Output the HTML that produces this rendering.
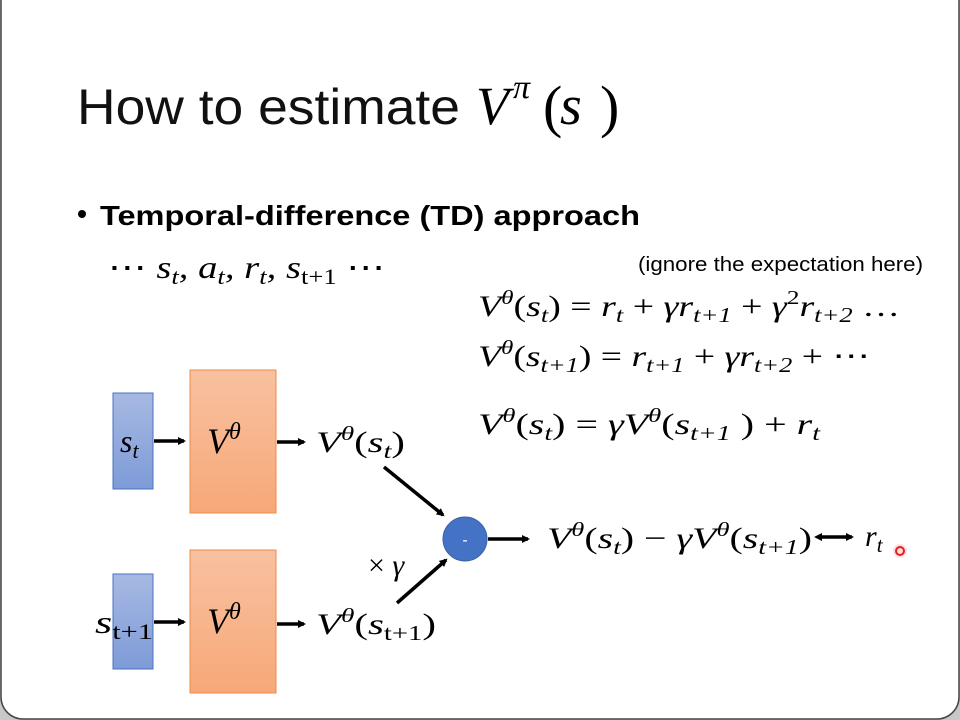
<!DOCTYPE html>
<html><head><meta charset="utf-8"><style>
html,body{margin:0;padding:0;background:#c8c8c8;}
svg{display:block;}
.m{font-family:"Liberation Serif",serif;font-style:italic;}
.u{font-family:"Liberation Serif",serif;font-style:normal;}
</style></head><body>
<svg width="960" height="720" viewBox="0 0 960 720" xmlns="http://www.w3.org/2000/svg">
<defs>
<linearGradient id="og" x1="0" y1="0" x2="0" y2="1"><stop offset="0" stop-color="#f8c1a0"/><stop offset="1" stop-color="#f7a878"/></linearGradient>
<linearGradient id="bg" x1="0" y1="0" x2="0" y2="1"><stop offset="0" stop-color="#a7b9e2"/><stop offset="1" stop-color="#7e9bd8"/></linearGradient>
<marker id="ah" markerWidth="8" markerHeight="8" refX="6" refY="4" orient="auto" markerUnits="userSpaceOnUse"><path d="M0,0 L8,4 L0,8 z" fill="#000"/></marker>
<marker id="ahs" markerWidth="8" markerHeight="8" refX="2" refY="4" orient="auto-start-reverse" markerUnits="userSpaceOnUse"><path d="M0,0 L8,4 L0,8 z" fill="#000"/></marker>
</defs>
<rect x="0" y="0" width="960" height="720" fill="#c8c8c8"/>
<rect x="1" y="-20" width="958" height="739" rx="22" fill="#fff" stroke="#444" stroke-width="1.5"/>

<!-- title -->
<text x="77" y="124" font-family="Liberation Sans,sans-serif" font-size="50" textLength="383" lengthAdjust="spacingAndGlyphs" fill="#111">How to estimate</text>
<text x="476" y="124" class="m" font-size="54">V</text>
<text x="513" y="98" class="m" font-size="34">π</text>
<text x="543" y="126" class="u" font-size="58">(</text>
<text x="560" y="124" class="m" font-size="56">s</text>
<text x="600" y="126" class="u" font-size="58">)</text>

<!-- bullet -->
<circle cx="82" cy="214" r="4" fill="#000"/>
<text x="100" y="225" font-family="Liberation Sans,sans-serif" font-weight="bold" font-size="28" textLength="540" lengthAdjust="spacingAndGlyphs">Temporal-difference (TD) approach</text>

<text x="108" y="278" class="m" font-size="32" textLength="277" lengthAdjust="spacingAndGlyphs"><tspan class="u">⋯</tspan> <tspan>s</tspan><tspan font-size="22" dy="6">t</tspan><tspan dy="-6">, a</tspan><tspan font-size="22" dy="6">t</tspan><tspan dy="-6">, r</tspan><tspan font-size="22" dy="6">t</tspan><tspan dy="-6">, s</tspan><tspan font-size="22" dy="6" class="u">t+1</tspan><tspan dy="-6" class="u"> ⋯</tspan></text>

<text x="638" y="271" font-family="Liberation Sans,sans-serif" font-size="20" textLength="285" lengthAdjust="spacingAndGlyphs">(ignore the expectation here)</text>

<!-- equations -->
<text x="478" y="316" class="m" font-size="30" textLength="422" lengthAdjust="spacingAndGlyphs">V<tspan font-size="20" dy="-12">θ</tspan><tspan dy="12" class="u">(</tspan>s<tspan font-size="21" dy="6">t</tspan><tspan dy="-6" class="u">) = </tspan>r<tspan font-size="21" dy="6">t</tspan><tspan dy="-6" class="u"> + </tspan>γr<tspan font-size="21" dy="6">t+1</tspan><tspan dy="-6" class="u"> + </tspan>γ<tspan font-size="20" dy="-12" class="u">2</tspan><tspan dy="12">r</tspan><tspan font-size="21" dy="6">t+2</tspan><tspan dy="-6" class="u"> …</tspan></text>

<text x="478" y="366" class="m" font-size="30" textLength="392" lengthAdjust="spacingAndGlyphs">V<tspan font-size="20" dy="-12">θ</tspan><tspan dy="12" class="u">(</tspan>s<tspan font-size="21" dy="6">t+1</tspan><tspan dy="-6" class="u">) = </tspan>r<tspan font-size="21" dy="6">t+1</tspan><tspan dy="-6" class="u"> + </tspan>γr<tspan font-size="21" dy="6">t+2</tspan><tspan dy="-6" class="u"> + ⋯</tspan></text>

<text x="478" y="434" class="m" font-size="30" textLength="342" lengthAdjust="spacingAndGlyphs">V<tspan font-size="20" dy="-12">θ</tspan><tspan dy="12" class="u">(</tspan>s<tspan font-size="21" dy="6">t</tspan><tspan dy="-6" class="u">) = </tspan>γV<tspan font-size="20" dy="-12">θ</tspan><tspan dy="12" class="u">(</tspan>s<tspan font-size="21" dy="6">t+1</tspan><tspan dy="-6" class="u"> ) + </tspan>r<tspan font-size="21" dy="6">t</tspan></text>

<!-- diagram -->
<rect x="113" y="393" width="40" height="96" fill="url(#bg)" stroke="#4a72c0" stroke-width="1"/>
<rect x="190" y="370" width="86" height="143" fill="url(#og)" stroke="#ee8a4a" stroke-width="1"/>
<rect x="113" y="574" width="40" height="95" fill="url(#bg)" stroke="#4a72c0" stroke-width="1"/>
<rect x="190" y="550" width="86" height="143" fill="url(#og)" stroke="#ee8a4a" stroke-width="1"/>

<text x="120" y="452" class="m" font-size="32">s<tspan font-size="22" dy="6">t</tspan></text>
<text x="95" y="633" class="m" font-size="32" textLength="58" lengthAdjust="spacingAndGlyphs">s<tspan font-size="22" dy="6" class="u">t+1</tspan></text>
<text x="207" y="453" class="m" font-size="36">V<tspan font-size="24" dy="-14">θ</tspan></text>
<text x="207" y="633" class="m" font-size="36">V<tspan font-size="24" dy="-14">θ</tspan></text>

<g stroke="#000" stroke-width="3.5" fill="none">
<line x1="154" y1="441" x2="184" y2="441" marker-end="url(#ah)"/>
<line x1="154" y1="622" x2="184" y2="622" marker-end="url(#ah)"/>
<line x1="277" y1="442" x2="304" y2="442" marker-end="url(#ah)"/>
<line x1="277" y1="624" x2="304" y2="624" marker-end="url(#ah)"/>
<line x1="384" y1="467" x2="443" y2="515" marker-end="url(#ah)"/>
<line x1="397" y1="603" x2="446" y2="560" marker-end="url(#ah)"/>
<line x1="488" y1="539" x2="528" y2="539" marker-end="url(#ah)"/>
<line x1="820" y1="537" x2="852" y2="537" marker-end="url(#ah)" marker-start="url(#ahs)"/>
</g>

<text x="316" y="452" class="m" font-size="30" textLength="89" lengthAdjust="spacingAndGlyphs">V<tspan font-size="20" dy="-12">θ</tspan><tspan dy="12" class="u">(</tspan>s<tspan font-size="21" dy="6">t</tspan><tspan dy="-6" class="u">)</tspan></text>
<text x="316" y="634" class="m" font-size="30" textLength="120" lengthAdjust="spacingAndGlyphs">V<tspan font-size="20" dy="-12">θ</tspan><tspan dy="12" class="u">(</tspan>s<tspan font-size="21" dy="6" class="u">t+1</tspan><tspan dy="-6" class="u">)</tspan></text>
<text x="368" y="575" class="m" font-size="30"><tspan class="u">× </tspan>γ</text>

<circle cx="465" cy="539" r="22" fill="#4472c4" stroke="#3a62a8"/>
<text x="465" y="545" font-family="Liberation Sans,sans-serif" font-size="16" fill="#fff" text-anchor="middle">-</text>

<text x="547" y="548" class="m" font-size="30" textLength="265" lengthAdjust="spacingAndGlyphs">V<tspan font-size="20" dy="-12">θ</tspan><tspan dy="12" class="u">(</tspan>s<tspan font-size="21" dy="6">t</tspan><tspan dy="-6" class="u">) − </tspan>γV<tspan font-size="20" dy="-12">θ</tspan><tspan dy="12" class="u">(</tspan>s<tspan font-size="21" dy="6">t+1</tspan><tspan dy="-6" class="u">)</tspan></text>
<text x="865" y="546" class="m" font-size="30">r<tspan font-size="21" dy="6">t</tspan></text>

<circle cx="900" cy="551" r="7" fill="#ffd0d0" opacity="0.7"/>
<circle cx="900" cy="551" r="4" fill="none" stroke="#e02020" stroke-width="2"/>
</svg>
</body></html>
